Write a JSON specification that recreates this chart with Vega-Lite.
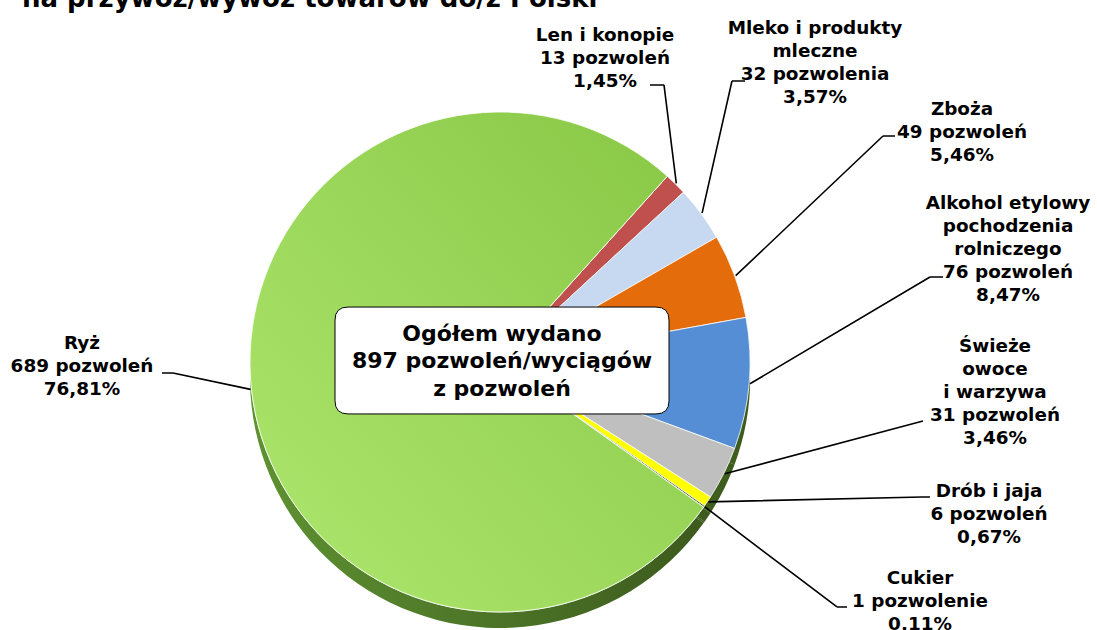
{
  "$schema": "https://vega.github.io/schema/vega-lite/v6.json",
  "width": 1000,
  "height": 500,
  "autosize": "none",
  "padding": {"left": 0, "top": 112, "right": 97, "bottom": 18},
  "background": "white",
  "data": {"values": [
    {"k": 1, "cat": "Len i konopie", "n": 13, "label": "Len i konopie\n13 pozwoleń\n1,45%"},
    {"k": 2, "cat": "Mleko i produkty mleczne", "n": 32, "label": "Mleko i produkty\nmleczne\n32 pozwolenia\n3,57%"},
    {"k": 3, "cat": "Zboża", "n": 49, "label": "Zboża\n49 pozwoleń\n5,46%"},
    {"k": 4, "cat": "Alkohol etylowy pochodzenia rolniczego", "n": 76, "label": "Alkohol etylowy\npochodzenia\nrolniczego\n76 pozwoleń\n8,47%"},
    {"k": 5, "cat": "Świeże owoce i warzywa", "n": 31, "label": "Świeże\nowoce\ni warzywa\n31 pozwoleń\n3,46%"},
    {"k": 6, "cat": "Drób i jaja", "n": 6, "label": "Drób i jaja\n6 pozwoleń\n0,67%"},
    {"k": 7, "cat": "Cukier", "n": 1, "label": "Cukier\n1 pozwolenie\n0,11%"},
    {"k": 8, "cat": "Ryż", "n": 689, "label": "Ryż\n689 pozwoleń\n76,81%"}
  ]},
  "config": {
    "view": {"stroke": null},
    "text": {"font": "DejaVu Sans", "fontSize": 18.4, "fontWeight": "bold", "color": "#000000", "align": "center", "baseline": "middle", "lineBreak": "\n", "lineHeight": 23}
  },
  "layer": [
    {
      "mark": {"type": "arc", "radius": 250, "yOffset": 16, "fill": {"gradient": "linear", "x1": 0, "y1": 0.5, "x2": 1, "y2": 0.5, "stops": [{"offset": 0, "color": "#5F9232"}, {"offset": 1, "color": "#3C5A1D"}]}},
      "encoding": {"theta": {"field": "n", "type": "quantitative", "stack": true, "scale": {"range": [0.7330, 7.0162]}}, "order": {"field": "k", "type": "quantitative"}}
    },
    {
      "mark": {"type": "arc", "radius": 250, "stroke": "#ffffff", "strokeWidth": 0.8},
      "encoding": {
        "theta": {"field": "n", "type": "quantitative", "stack": true},
        "order": {"field": "k", "type": "quantitative"},
        "color": {"field": "cat", "type": "nominal", "legend": null, "scale": {
          "domain": ["Len i konopie", "Mleko i produkty mleczne", "Zboża", "Alkohol etylowy pochodzenia rolniczego", "Świeże owoce i warzywa", "Drób i jaja", "Cukier", "Ryż"],
          "range": ["#C0504D", "#C6D9F1", "#E46C0A", "#558ED5", "#BFBFBF", "#FFFF00", "#4F6228", "#92D050"]}}
      }
    },
    {
      "mark": {"type": "arc", "radius": 250, "stroke": "#ffffff", "strokeWidth": 0.8, "fill": {"gradient": "linear", "x1": 0, "y1": 1, "x2": 1, "y2": 0, "stops": [{"offset": 0, "color": "#AEE86F"}, {"offset": 1, "color": "#88C645"}]}},
      "encoding": {
        "theta": {"field": "n", "type": "quantitative", "stack": true},
        "order": {"field": "k", "type": "quantitative"},
        "fillOpacity": {"condition": {"test": "datum.k === 8", "value": 1}, "value": 0},
        "strokeOpacity": {"condition": {"test": "datum.k === 8", "value": 1}, "value": 0}
      }
    },
    {"mark": {"type": "arc", "filled": false, "stroke": "#000000", "strokeWidth": 1.6, "padAngle": 1.2, "radius": 99.1, "radius2": 0, "thetaOffset": 5.3801, "theta2Offset": 5.3801, "xOffset": 176.3, "yOffset": -178.7},
     "encoding": {"theta": {"field": "n", "type": "quantitative", "stack": true}, "order": {"field": "k", "type": "quantitative"}, "strokeOpacity": {"condition": {"test": "datum.k === 1", "value": 1}, "value": 0}}},
    {"mark": {"type": "arc", "filled": false, "stroke": "#000000", "strokeWidth": 1.6, "padAngle": 1.2, "radius": 14, "radius2": 0, "thetaOffset": 3.9338, "theta2Offset": 3.9338, "xOffset": 164, "yOffset": -277},
     "encoding": {"theta": {"field": "n", "type": "quantitative", "stack": true}, "order": {"field": "k", "type": "quantitative"}, "strokeOpacity": {"condition": {"test": "datum.k === 1", "value": 1}, "value": 0}}},
    {"mark": {"type": "arc", "filled": false, "stroke": "#000000", "strokeWidth": 1.6, "padAngle": 1.2, "radius": 135.4, "radius2": 0, "thetaOffset": -0.5561, "theta2Offset": -0.5561, "xOffset": 202.1, "yOffset": -148.9},
     "encoding": {"theta": {"field": "n", "type": "quantitative", "stack": true}, "order": {"field": "k", "type": "quantitative"}, "strokeOpacity": {"condition": {"test": "datum.k === 1", "value": 1}, "value": 0}}},
    {"mark": {"type": "arc", "filled": false, "stroke": "#000000", "strokeWidth": 1.6, "padAngle": 1.2, "radius": 13, "radius2": 0, "thetaOffset": 0.7922, "theta2Offset": 0.7922, "xOffset": 232, "yOffset": -281},
     "encoding": {"theta": {"field": "n", "type": "quantitative", "stack": true}, "order": {"field": "k", "type": "quantitative"}, "strokeOpacity": {"condition": {"test": "datum.k === 1", "value": 1}, "value": 0}}},
    {"mark": {"type": "arc", "filled": false, "stroke": "#000000", "strokeWidth": 1.6, "padAngle": 1.2, "radius": 203, "radius2": 0, "thetaOffset": 0.0334, "theta2Offset": 0.0334, "xOffset": 235.7, "yOffset": -86.3},
     "encoding": {"theta": {"field": "n", "type": "quantitative", "stack": true}, "order": {"field": "k", "type": "quantitative"}, "strokeOpacity": {"condition": {"test": "datum.k === 1", "value": 1}, "value": 0}}},
    {"mark": {"type": "arc", "filled": false, "stroke": "#000000", "strokeWidth": 1.6, "padAngle": 1.2, "radius": 12, "radius2": 0, "thetaOffset": 0.7922, "theta2Offset": 0.7922, "xOffset": 383, "yOffset": -226},
     "encoding": {"theta": {"field": "n", "type": "quantitative", "stack": true}, "order": {"field": "k", "type": "quantitative"}, "strokeOpacity": {"condition": {"test": "datum.k === 1", "value": 1}, "value": 0}}},
    {"mark": {"type": "arc", "filled": false, "stroke": "#000000", "strokeWidth": 1.6, "padAngle": 1.2, "radius": 209.3, "radius2": 0, "thetaOffset": 0.2568, "theta2Offset": 0.2568, "xOffset": 250, "yOffset": 21.8},
     "encoding": {"theta": {"field": "n", "type": "quantitative", "stack": true}, "order": {"field": "k", "type": "quantitative"}, "strokeOpacity": {"condition": {"test": "datum.k === 1", "value": 1}, "value": 0}}},
    {"mark": {"type": "arc", "filled": false, "stroke": "#000000", "strokeWidth": 1.6, "padAngle": 1.2, "radius": 13, "radius2": 0, "thetaOffset": 0.7922, "theta2Offset": 0.7922, "xOffset": 430, "yOffset": -85},
     "encoding": {"theta": {"field": "n", "type": "quantitative", "stack": true}, "order": {"field": "k", "type": "quantitative"}, "strokeOpacity": {"condition": {"test": "datum.k === 1", "value": 1}, "value": 0}}},
    {"mark": {"type": "arc", "filled": false, "stroke": "#000000", "strokeWidth": 1.6, "padAngle": 1.2, "radius": 205.2, "radius2": 0, "thetaOffset": 0.5320, "theta2Offset": 0.5320, "xOffset": 224.7, "yOffset": 111.8},
     "encoding": {"theta": {"field": "n", "type": "quantitative", "stack": true}, "order": {"field": "k", "type": "quantitative"}, "strokeOpacity": {"condition": {"test": "datum.k === 1", "value": 1}, "value": 0}}},
    {"mark": {"type": "arc", "filled": false, "stroke": "#000000", "strokeWidth": 1.6, "padAngle": 1.2, "radius": 213.7, "radius2": 0, "thetaOffset": 0.7694, "theta2Offset": 0.7694, "xOffset": 208.4, "yOffset": 139.9},
     "encoding": {"theta": {"field": "n", "type": "quantitative", "stack": true}, "order": {"field": "k", "type": "quantitative"}, "strokeOpacity": {"condition": {"test": "datum.k === 1", "value": 1}, "value": 0}}},
    {"mark": {"type": "arc", "filled": false, "stroke": "#000000", "strokeWidth": 1.6, "padAngle": 1.2, "radius": 8, "radius2": 0, "thetaOffset": 0.7922, "theta2Offset": 0.7922, "xOffset": 422, "yOffset": 135},
     "encoding": {"theta": {"field": "n", "type": "quantitative", "stack": true}, "order": {"field": "k", "type": "quantitative"}, "strokeOpacity": {"condition": {"test": "datum.k === 1", "value": 1}, "value": 0}}},
    {"mark": {"type": "arc", "filled": false, "stroke": "#000000", "strokeWidth": 1.6, "padAngle": 1.2, "radius": 165.7, "radius2": 0, "thetaOffset": 1.4406, "theta2Offset": 1.4406, "xOffset": 204.9, "yOffset": 144.9},
     "encoding": {"theta": {"field": "n", "type": "quantitative", "stack": true}, "order": {"field": "k", "type": "quantitative"}, "strokeOpacity": {"condition": {"test": "datum.k === 1", "value": 1}, "value": 0}}},
    {"mark": {"type": "arc", "filled": false, "stroke": "#000000", "strokeWidth": 1.6, "padAngle": 1.2, "radius": 10, "radius2": 0, "thetaOffset": 0.7922, "theta2Offset": 0.7922, "xOffset": 337, "yOffset": 245},
     "encoding": {"theta": {"field": "n", "type": "quantitative", "stack": true}, "order": {"field": "k", "type": "quantitative"}, "strokeOpacity": {"condition": {"test": "datum.k === 1", "value": 1}, "value": 0}}},
    {"mark": {"type": "arc", "filled": false, "stroke": "#000000", "strokeWidth": 1.6, "padAngle": 1.2, "radius": 79.2, "radius2": 0, "thetaOffset": 4.1424, "theta2Offset": 4.1424, "xOffset": -249.5, "yOffset": 27.4},
     "encoding": {"theta": {"field": "n", "type": "quantitative", "stack": true}, "order": {"field": "k", "type": "quantitative"}, "strokeOpacity": {"condition": {"test": "datum.k === 1", "value": 1}, "value": 0}}},
    {"mark": {"type": "arc", "filled": false, "stroke": "#000000", "strokeWidth": 1.6, "padAngle": 1.2, "radius": 11, "radius2": 0, "thetaOffset": 3.9338, "theta2Offset": 3.9338, "xOffset": -327, "yOffset": 11},
     "encoding": {"theta": {"field": "n", "type": "quantitative", "stack": true}, "order": {"field": "k", "type": "quantitative"}, "strokeOpacity": {"condition": {"test": "datum.k === 1", "value": 1}, "value": 0}}},
    {
      "data": {"values": [{"t": "Ogółem wydano\n897 pozwoleń/wyciągów\nz pozwoleń"}]},
      "mark": {"type": "point", "filled": true, "fill": "#ffffff", "opacity": 1, "fillOpacity": 1, "stroke": "#000000", "strokeWidth": 1, "size": 111556, "xOffset": 2, "yOffset": -1.5,
        "shape": "M -0.922 -0.32 L 0.922 -0.32 Q 1 -0.32 1 -0.242 L 1 0.242 Q 1 0.32 0.922 0.32 L -0.922 0.32 Q -1 0.32 -1 0.242 L -1 -0.242 Q -1 -0.32 -0.922 -0.32 Z"},
      "encoding": {}
    },
    {
      "data": {"values": [{"t": "Ogółem wydano\n897 pozwoleń/wyciągów\nz pozwoleń"}]},
      "mark": {"type": "text", "fontSize": 22, "lineHeight": 27.5, "dx": 2, "dy": -28.5},
      "encoding": {"text": {"field": "t"}}
    },
    {
      "data": {"values": [{"t": "na przywóz/wywóz towarów do/z Polski"}]},
      "mark": {"type": "text", "fontSize": 26, "align": "left", "baseline": "alphabetic", "dx": -478, "dy": -355},
      "encoding": {"text": {"field": "t"}}
    },
    {"transform": [{"filter": "datum.k === 1"}], "mark": {"type": "text", "dx": 105, "dy": -327}, "encoding": {"text": {"field": "label"}}},
    {"transform": [{"filter": "datum.k === 2"}], "mark": {"type": "text", "dx": 315, "dy": -334.5}, "encoding": {"text": {"field": "label"}}},
    {"transform": [{"filter": "datum.k === 3"}], "mark": {"type": "text", "dx": 462, "dy": -253}, "encoding": {"text": {"field": "label"}}},
    {"transform": [{"filter": "datum.k === 4"}], "mark": {"type": "text", "dx": 508, "dy": -159}, "encoding": {"text": {"field": "label"}}},
    {"transform": [{"filter": "datum.k === 5"}], "mark": {"type": "text", "dx": 495, "dy": -16}, "encoding": {"text": {"field": "label"}}},
    {"transform": [{"filter": "datum.k === 6"}], "mark": {"type": "text", "dx": 489, "dy": 129}, "encoding": {"text": {"field": "label"}}},
    {"transform": [{"filter": "datum.k === 7"}], "mark": {"type": "text", "dx": 420, "dy": 216}, "encoding": {"text": {"field": "label"}}},
    {"transform": [{"filter": "datum.k === 8"}], "mark": {"type": "text", "dx": -418, "dy": -19}, "encoding": {"text": {"field": "label"}}}
  ]
}
